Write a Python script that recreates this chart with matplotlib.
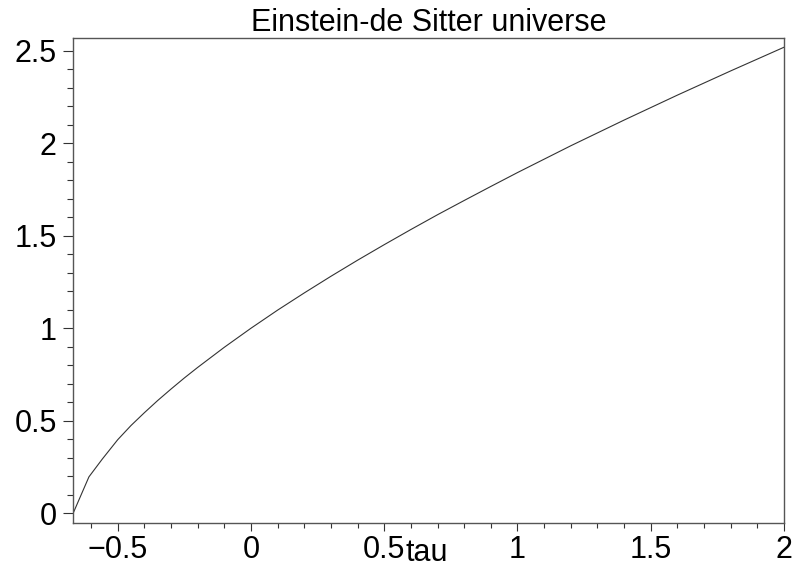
import matplotlib
matplotlib.use("Agg")
import matplotlib.pyplot as plt
from matplotlib.ticker import MultipleLocator

plt.rcParams['font.family'] = ['Liberation Sans', 'DejaVu Sans']

tau = [-0.667, -0.608, -0.558, -0.5, -0.45, -0.4, -0.35, -0.3, -0.25, -0.2,
       -0.1, 0.0, 0.1, 0.2, 0.3, 0.4, 0.5, 0.6, 0.7, 0.8, 0.9, 1.0, 1.2,
       1.4, 1.6, 1.8, 2.0]
a = [0.0, 0.196, 0.292, 0.397, 0.474, 0.543, 0.609, 0.671, 0.731, 0.788,
     0.897, 1.0, 1.098, 1.191, 1.281, 1.368, 1.452, 1.534, 1.614, 1.691,
     1.767, 1.842, 1.987, 2.126, 2.261, 2.392, 2.52]
xticks = [-0.5, 0, 0.5, 1, 1.5, 2]
xticklabels = ['\u22120.5', '0', '0.5', '1', '1.5', '2']
yticks = [0, 0.5, 1, 1.5, 2, 2.5]
yticklabels = ['0', '0.5', '1', '1.5', '2', '2.5']
title = "Einstein-de Sitter universe"
xlabel = "tau"

W, H = 794, 569
fig = plt.figure(figsize=(W / 100, H / 100), dpi=100)
ax = fig.add_axes([73.3 / W, 1 - 522.7 / H, (784 - 73.3) / W, (522.7 - 38) / H])
ax.plot(tau, a, color='#333333', lw=0.8)
ax.set_xlim(-2 / 3, 2)
ax.set_ylim(-0.052, 2.57)

for s in ax.spines.values():
    s.set_color('#555555')
    s.set_linewidth(1.0)

ax.set_xticks(xticks)
ax.set_xticklabels(xticklabels)
ax.set_yticks(yticks)
ax.set_yticklabels(yticklabels)
ax.xaxis.set_minor_locator(MultipleLocator(0.1))
ax.yaxis.set_minor_locator(MultipleLocator(0.1))
ax.tick_params(axis='x', which='major', direction='out', length=6, width=0.8,
               color='#333333', labelsize=22, pad=3)
ax.tick_params(axis='x', which='minor', direction='out', length=3.5, width=0.8,
               color='#333333')
ax.tick_params(axis='y', which='major', direction='out', length=7, width=0.8,
               color='#333333', labelsize=22, pad=5)
ax.tick_params(axis='y', which='minor', direction='out', length=4, width=0.8,
               color='#333333')
ax.tick_params(top=False, right=False)

fig.text(428.5 / W, 1 - 31 / H, title, ha='center', va='baseline', fontsize=22)
fig.text(405 / W, 1 - 561 / H, xlabel, ha='left', va='baseline', fontsize=22)

fig.savefig('out.png', dpi=100)
